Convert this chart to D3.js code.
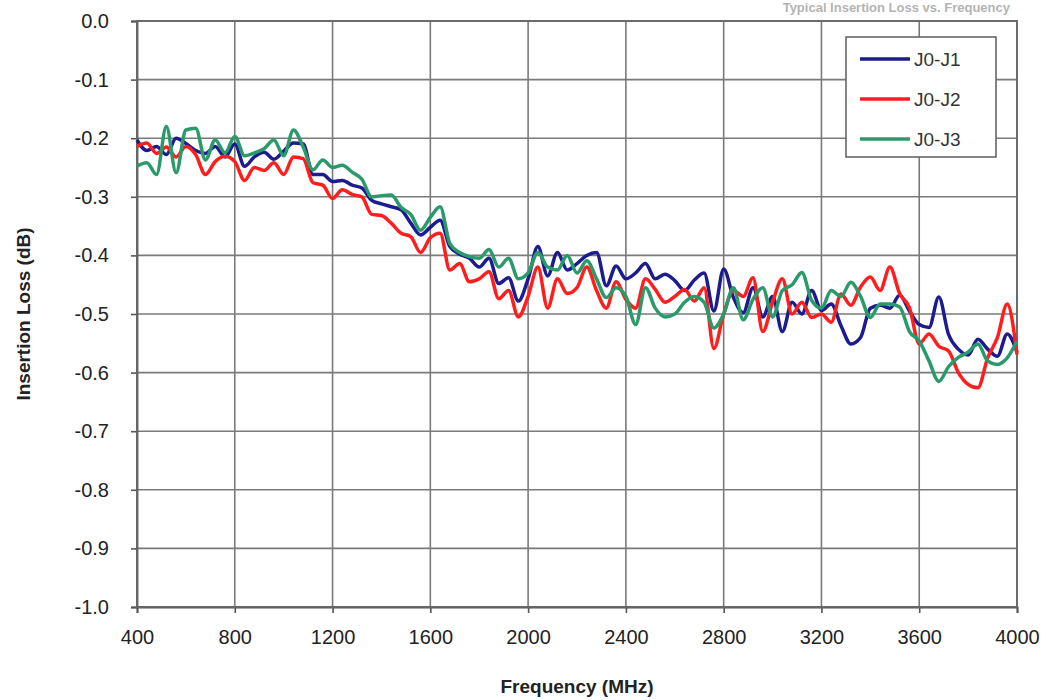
<!DOCTYPE html>
<html>
<head>
<meta charset="utf-8">
<script src="https://cdn.jsdelivr.net/npm/d3@7/dist/d3.min.js"></script>
<style>
  body { margin: 0; background: #fff; }
  svg { display: block; font-family: "Liberation Sans", Arial, sans-serif; }
</style>
</head>
<body>
<div id="container"></div>
<script>
// frequency grid (MHz), one sample every 40 MHz
let freq = d3.range(400, 4001, 40);

let xTicks = [400, 800, 1200, 1600, 2000, 2400, 2800, 3200, 3600, 4000];
let yTicks = [0, -0.1, -0.2, -0.3, -0.4, -0.5, -0.6, -0.7, -0.8, -0.9, -1.0];

let seriesNames = ["J0-J1", "J0-J2", "J0-J3"];
let seriesColors = ["#1c1c8e", "#ff1e1e", "#2a9a6a"];

let lossJ1 = [
  -0.203,-0.221,-0.214,-0.228,-0.200,-0.209,-0.221,-0.226,-0.214,-0.232,
  -0.210,-0.248,-0.232,-0.224,-0.236,-0.222,-0.208,-0.210,-0.262,-0.262,
  -0.274,-0.272,-0.280,-0.285,-0.306,-0.312,-0.317,-0.322,-0.345,-0.365,
  -0.352,-0.340,-0.385,-0.398,-0.405,-0.420,-0.405,-0.448,-0.438,-0.478,
  -0.440,-0.385,-0.435,-0.395,-0.425,-0.414,-0.400,-0.395,-0.452,-0.418,
  -0.440,-0.430,-0.414,-0.440,-0.432,-0.443,-0.460,-0.442,-0.430,-0.495,
  -0.423,-0.472,-0.498,-0.455,-0.505,-0.470,-0.530,-0.480,-0.500,-0.460,
  -0.494,-0.483,-0.520,-0.551,-0.540,-0.490,-0.485,-0.490,-0.468,-0.495,
  -0.518,-0.523,-0.471,-0.535,-0.560,-0.570,-0.543,-0.560,-0.572,-0.534,
  -0.565
];

let lossJ2 = [
  -0.214,-0.208,-0.226,-0.215,-0.232,-0.214,-0.228,-0.262,-0.240,-0.231,
  -0.240,-0.272,-0.250,-0.255,-0.242,-0.262,-0.232,-0.235,-0.276,-0.280,
  -0.303,-0.288,-0.296,-0.300,-0.330,-0.332,-0.345,-0.362,-0.368,-0.395,
  -0.370,-0.362,-0.425,-0.414,-0.445,-0.440,-0.428,-0.474,-0.460,-0.505,
  -0.470,-0.420,-0.490,-0.440,-0.465,-0.455,-0.420,-0.460,-0.490,-0.445,
  -0.475,-0.490,-0.440,-0.458,-0.480,-0.470,-0.458,-0.478,-0.455,-0.559,
  -0.500,-0.460,-0.470,-0.438,-0.530,-0.480,-0.440,-0.500,-0.480,-0.506,
  -0.500,-0.514,-0.466,-0.485,-0.454,-0.437,-0.460,-0.420,-0.465,-0.489,
  -0.551,-0.534,-0.555,-0.563,-0.600,-0.620,-0.626,-0.575,-0.540,-0.483,
  -0.569
];

let lossJ3 = [
  -0.248,-0.242,-0.262,-0.180,-0.259,-0.186,-0.183,-0.237,-0.203,-0.225,
  -0.197,-0.230,-0.225,-0.218,-0.203,-0.230,-0.186,-0.215,-0.254,-0.237,
  -0.250,-0.246,-0.258,-0.270,-0.300,-0.298,-0.297,-0.318,-0.330,-0.357,
  -0.335,-0.317,-0.380,-0.395,-0.402,-0.405,-0.390,-0.420,-0.405,-0.440,
  -0.430,-0.395,-0.420,-0.425,-0.400,-0.430,-0.409,-0.440,-0.472,-0.455,
  -0.470,-0.518,-0.455,-0.490,-0.505,-0.500,-0.480,-0.470,-0.480,-0.524,
  -0.500,-0.455,-0.510,-0.475,-0.455,-0.505,-0.460,-0.450,-0.429,-0.477,
  -0.490,-0.460,-0.470,-0.446,-0.470,-0.506,-0.483,-0.483,-0.488,-0.530,
  -0.546,-0.580,-0.615,-0.590,-0.574,-0.565,-0.551,-0.580,-0.586,-0.575,
  -0.546
];

let width = 1055, height = 700;
let margin = {left: 137, right: 38, top: 21, bottom: 93};

function drawChart() {
  let svg = d3.select('#container').append('svg')
    .attr('width', width)
    .attr('height', height);

  let x = d3.scaleLinear().domain([400, 4000]).range([margin.left, width - margin.right]);
  let y = d3.scaleLinear().domain([-1, 0]).range([height - margin.bottom, margin.top]);

  // title (faint, squeezed into the strip above the plot)
  svg.append('text')
    .attr('x', 1010).attr('y', 12)
    .attr('text-anchor', 'end')
    .attr('font-size', 13).attr('font-weight', 'bold')
    .attr('fill', '#b4b4b4')
    .text('Typical Insertion Loss vs. Frequency');

  // grid
  let grid = svg.append('g');
  grid.selectAll('line.v').data(xTicks).enter().append('line')
    .attr('x1', d => x(d)).attr('x2', d => x(d))
    .attr('y1', y(0)).attr('y2', y(-1))
    .attr('stroke', '#7a7a7a').attr('stroke-width', 1.6);
  grid.selectAll('line.h').data(yTicks).enter().append('line')
    .attr('x1', x(400)).attr('x2', x(4000))
    .attr('y1', d => y(d)).attr('y2', d => y(d))
    .attr('stroke', '#7a7a7a').attr('stroke-width', 1.6);

  // axes
  let xAxis = d3.axisBottom(x).tickValues(xTicks).tickSize(6).tickPadding(8).tickFormat(d3.format('d'));
  let yAxis = d3.axisLeft(y).tickValues(yTicks).tickSize(6).tickPadding(22)
    .tickFormat(d => d.toFixed(1).replace('-0.0', '0.0'));

  let gx = svg.append('g').attr('transform', `translate(0,${y(-1)})`).call(xAxis);
  let gy = svg.append('g').attr('transform', `translate(${x(400)},0)`).call(yAxis);
  [gx, gy].forEach(g => {
    g.select('.domain').attr('stroke', '#555').attr('stroke-width', 1.8);
    g.selectAll('.tick line').attr('stroke', '#555').attr('stroke-width', 1.6);
    g.selectAll('.tick text').attr('font-size', 20).attr('fill', '#222')
      .attr('font-family', '"Liberation Sans", Arial, sans-serif');
  });
  gx.selectAll('.tick text').attr('dy', '1.15em');

  // plot frame
  svg.append('rect')
    .attr('x', x(400)).attr('y', y(0))
    .attr('width', x(4000) - x(400)).attr('height', y(-1) - y(0))
    .attr('fill', 'none').attr('stroke', '#666').attr('stroke-width', 1.8);

  // axis titles
  svg.append('text')
    .attr('x', (x(400) + x(4000)) / 2).attr('y', 693)
    .attr('text-anchor', 'middle')
    .attr('font-size', 19).attr('font-weight', 'bold').attr('fill', '#222')
    .text('Frequency (MHz)');
  svg.append('text')
    .attr('transform', `translate(30,${(y(0) + y(-1)) / 2}) rotate(-90)`)
    .attr('text-anchor', 'middle')
    .attr('font-size', 19).attr('font-weight', 'bold').attr('fill', '#222')
    .text('Insertion Loss (dB)');

  // series
  let allLoss = [lossJ1, lossJ2, lossJ3];
  let line = d3.line()
    .x(d => x(d[0]))
    .y(d => y(d[1]))
    .curve(d3.curveMonotoneX);

  allLoss.forEach((vals, i) => {
    let pts = freq.map((f, k) => [f, vals[k]]).filter(p => p[1] !== undefined);
    svg.append('path')
      .datum(pts)
      .attr('d', line)
      .attr('fill', 'none')
      .attr('stroke', seriesColors[i])
      .attr('stroke-width', 3.5)
      .attr('stroke-linejoin', 'round');
  });

  // legend
  let lg = svg.append('g').attr('transform', 'translate(846,37)');
  lg.append('rect')
    .attr('width', 150).attr('height', 120)
    .attr('fill', '#fff').attr('stroke', '#666').attr('stroke-width', 1.6);
  seriesNames.forEach((name, i) => {
    let yy = 22 + i * 40;
    lg.append('line')
      .attr('x1', 14).attr('x2', 64).attr('y1', yy).attr('y2', yy)
      .attr('stroke', seriesColors[i]).attr('stroke-width', 3.5);
    lg.append('text')
      .attr('x', 68).attr('y', yy).attr('dy', '0.35em')
      .attr('font-size', 19).attr('fill', '#333')
      .text(name);
  });
}

document.addEventListener("DOMContentLoaded", drawChart);
</script>
</body>
</html>
